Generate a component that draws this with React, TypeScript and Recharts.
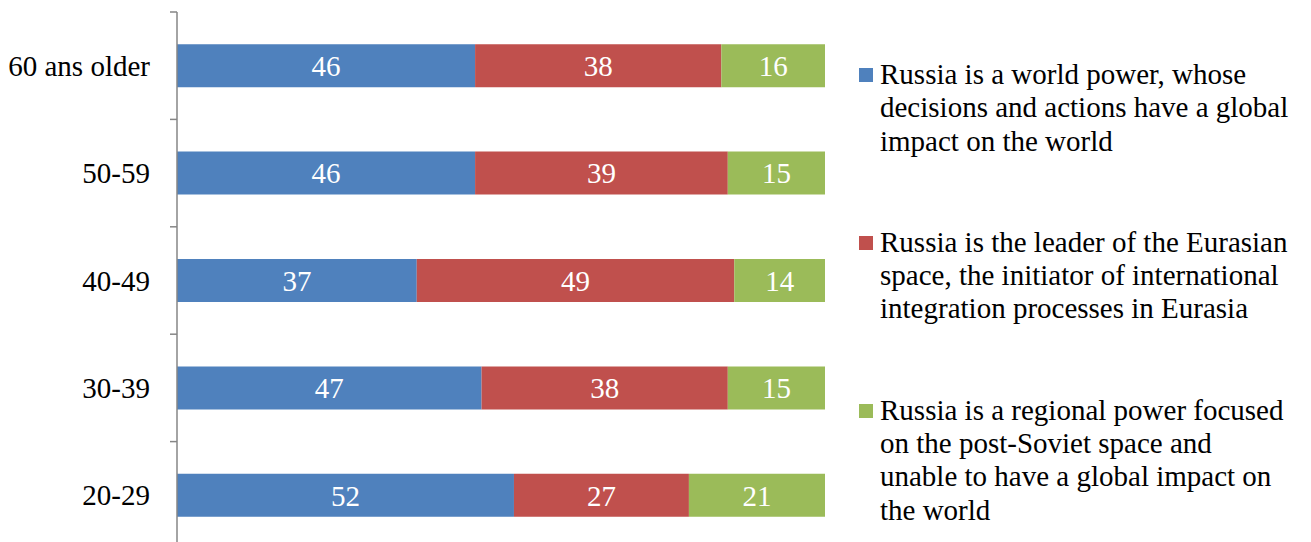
import React from "react";
import { BarChart, Bar, XAxis, YAxis, LabelList, Legend } from "recharts";

const categories = ["60 ans older", "50-59", "40-49", "30-39", "20-29"];
const worldPower = [46, 46, 37, 47, 52];
const eurasianLeader = [38, 39, 49, 38, 27];
const regionalPower = [16, 15, 14, 15, 21];

const seriesNames = [
  "Russia is a world power, whose\ndecisions and actions have a global\nimpact on the world",
  "Russia is the leader of the Eurasian\nspace, the initiator of international\nintegration processes in Eurasia",
  "Russia is a regional power focused\non the post-Soviet space and\nunable to have a global impact on\nthe world",
];
const seriesColors = ["#4F81BD", "#C0504D", "#9BBB59"];

const data = categories.map((name, i) => ({
  name,
  a: worldPower[i],
  b: eurasianLeader[i],
  c: regionalPower[i],
}));

const FONT = '"Liberation Serif", "Times New Roman", serif';
const TICK_MARGIN = 27;
const TICK_LEN = 7;
const AXIS_COLOR = "#868686";
const LEGEND_W = 450;

const CategoryTick = (props: any) => {
  const { x, y, payload, index, visibleTicksCount } = props;
  const half = payload && payload.offset ? payload.offset : 0;
  const ax = x + TICK_MARGIN;
  const isLast = index === (visibleTicksCount ?? categories.length) - 1;
  return (
    <g>
      <line x1={ax - TICK_LEN} x2={ax} y1={y - half} y2={y - half} stroke={AXIS_COLOR} strokeWidth={1.5} />
      {isLast && (
        <line x1={ax - TICK_LEN} x2={ax} y1={y + half} y2={y + half} stroke={AXIS_COLOR} strokeWidth={1.5} />
      )}
      <text x={x} y={y} textAnchor="end" dominantBaseline="central" fontFamily={FONT} fontSize={29} fill="#000">
        {payload.value}
      </text>
    </g>
  );
};

const LegendContent = (props: any) => {
  const payload = props.payload || [];
  return (
    <div style={{ fontFamily: FONT, fontSize: 29, lineHeight: "33.3px", color: "#000", width: LEGEND_W }}>
      {payload.map((p: any, i: number) => (
        <div key={i} style={{ display: "flex", alignItems: "flex-start", marginBottom: i < payload.length - 1 ? 68 : 0 }}>
          <div
            style={{
              width: 14,
              height: 14,
              background: p.color,
              marginTop: 10,
              marginRight: 7,
              flex: "none",
            }}
          />
          <div style={{ whiteSpace: "pre", textAlign: "left" }}>{p.value}</div>
        </div>
      ))}
    </div>
  );
};

export default function App() {
  return (
    <div style={{ width: 1303, height: 534, overflow: "hidden", position: "relative" }}>
      <BarChart
        width={1303}
        height={545}
        data={data}
        layout="vertical"
        margin={{ top: 4, right: 486 - LEGEND_W, bottom: 4, left: 0 }}
        barCategoryGap="30%"
      >
        <XAxis type="number" domain={[0, 100]} hide />
        <YAxis
          type="category"
          dataKey="name"
          width={169}
          axisLine={{ stroke: AXIS_COLOR, strokeWidth: 1.5 }}
          tickLine={false}
          tickSize={0}
          tickMargin={TICK_MARGIN}
          tick={<CategoryTick />}
          interval={0}
        />
        <Legend
          layout="vertical"
          align="right"
          verticalAlign="top"
          itemSorter="dataKey"
          content={<LegendContent />}
          wrapperStyle={{ left: 851, top: 50, width: LEGEND_W }}
        />
        <Bar dataKey="a" name={seriesNames[0]} stackId="s" fill={seriesColors[0]} isAnimationActive={false}>
          <LabelList dataKey="a" position="center" fill="#fff" style={{ fontFamily: FONT, fontSize: 29 }} />
        </Bar>
        <Bar dataKey="b" name={seriesNames[1]} stackId="s" fill={seriesColors[1]} isAnimationActive={false}>
          <LabelList dataKey="b" position="center" fill="#fff" style={{ fontFamily: FONT, fontSize: 29 }} />
        </Bar>
        <Bar dataKey="c" name={seriesNames[2]} stackId="s" fill={seriesColors[2]} isAnimationActive={false}>
          <LabelList dataKey="c" position="center" fill="#fff" style={{ fontFamily: FONT, fontSize: 29 }} />
        </Bar>
      </BarChart>
    </div>
  );
}
